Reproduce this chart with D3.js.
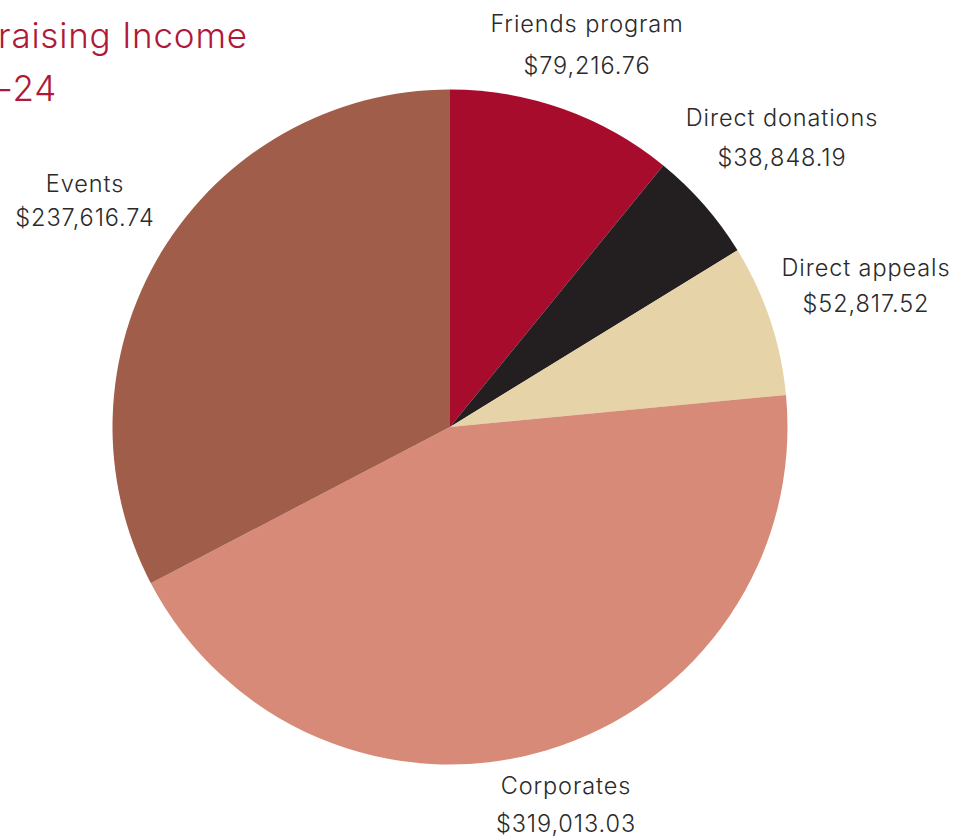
<!DOCTYPE html>
<html><head><meta charset="utf-8">
<script src="https://cdn.jsdelivr.net/npm/d3@7"></script>
<style>
html,body{margin:0;padding:0;background:#fff;}
svg{display:block;font-family:Inter,"Noto Sans",sans-serif;}
</style></head>
<body>
<svg id="chart" width="954" height="839"></svg>
<script>
const categories = ["Friends program","Direct donations","Direct appeals","Corporates","Events"];
const values = [79216.76, 38848.19, 52817.52, 319013.03, 237616.74];
const valueLabels = ["$79,216.76","$38,848.19","$52,817.52","$319,013.03","$237,616.74"];
const colors = ["#A80C2C","#231F20","#E6D3A8","#D68A77","#A05E4A"];
const titleLines = ["raising Income","-24"];

const svg = d3.select("#chart");
const cx = 450, cy = 427, r = 337.5;

const data = categories.map((c,i)=>({name:c,value:values[i],label:valueLabels[i],color:colors[i]}));
const pie = d3.pie().value(d=>d.value).sort(null);
const arc = d3.arc().innerRadius(0).outerRadius(r);

const g = svg.append("g").attr("transform",`translate(${cx},${cy})`);
g.selectAll("path").data(pie(data)).join("path")
  .attr("d",arc).attr("fill",d=>d.data.color);

const labelPos = [
  {x:587, y1:32, y2:74},
  {x:782, y1:126, y2:166},
  {x:866, y1:276, y2:312},
  {x:566, y1:794, y2:832},
  {x:85,  y1:192, y2:226}
];
const lg = svg.append("g").attr("fill","#2a2a2a").attr("font-size",23.5).attr("font-weight",300)
  .attr("letter-spacing","0.9px").attr("text-anchor","middle");
data.forEach((d,i)=>{
  lg.append("text").attr("x",labelPos[i].x).attr("y",labelPos[i].y1).text(d.name);
  lg.append("text").attr("x",labelPos[i].x).attr("y",labelPos[i].y2).text(d.label);
});

const tg = svg.append("g").attr("fill","#B0183A").attr("font-size",35).attr("font-weight",300)
  .attr("letter-spacing","0.8px");
tg.append("text").attr("x",-2).attr("y",48).text(titleLines[0]);
tg.append("text").attr("x",-3).attr("y",101).text(titleLines[1]);
</script>
</body></html>
